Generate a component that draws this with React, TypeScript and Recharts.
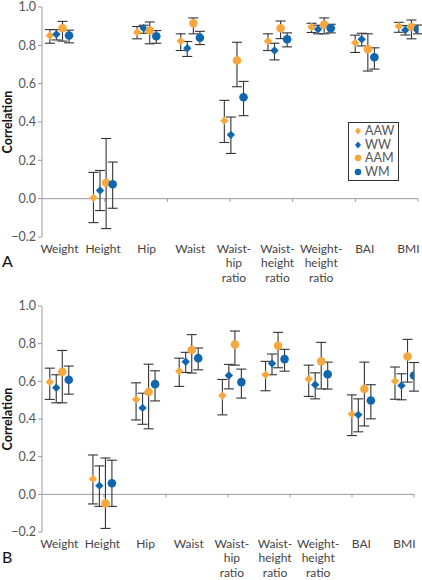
import React from 'react';
import { ScatterChart, Scatter, XAxis, YAxis, ErrorBar, ReferenceLine, Legend } from 'recharts';

// ---------- data ----------
const categories = ['Weight', 'Height', 'Hip', 'Waist', 'Waist-hip ratio', 'Waist-height ratio', 'Weight-height ratio', 'BAI', 'BMI'];
const seriesNames = ['AAW', 'WW', 'AAM', 'WM'];
const yTicks = [-0.2, 0, 0.2, 0.4, 0.6, 0.8, 1.0];

// [estimate, lower, upper]
const panelA_AAW: number[][] = [[0.851, 0.811, 0.882], [0.005, -0.125, 0.137], [0.868, 0.834, 0.898], [0.822, 0.773, 0.86], [0.407, 0.293, 0.513], [0.822, 0.773, 0.86], [0.896, 0.867, 0.915], [0.813, 0.763, 0.853], [0.9, 0.868, 0.92]];
const panelA_WW: number[][] = [[0.858, 0.828, 0.882], [0.043, -0.062, 0.147], [0.889, 0.863, 0.905], [0.785, 0.742, 0.82], [0.333, 0.236, 0.426], [0.773, 0.724, 0.811], [0.884, 0.86, 0.905], [0.832, 0.797, 0.863], [0.88, 0.854, 0.903]];
const panelA_AAM: number[][] = [[0.889, 0.822, 0.925], [0.083, -0.156, 0.314], [0.877, 0.808, 0.922], [0.915, 0.86, 0.943], [0.721, 0.584, 0.816], [0.889, 0.835, 0.927], [0.908, 0.86, 0.943], [0.78, 0.666, 0.86], [0.896, 0.834, 0.932]];
const panelA_WM: number[][] = [[0.851, 0.813, 0.879], [0.075, -0.05, 0.191], [0.847, 0.811, 0.877], [0.84, 0.804, 0.873], [0.529, 0.433, 0.612], [0.832, 0.792, 0.865], [0.889, 0.865, 0.91], [0.738, 0.676, 0.787], [0.884, 0.86, 0.906]];

const panelB_AAW: number[][] = [[0.596, 0.504, 0.67], [0.082, -0.051, 0.209], [0.504, 0.395, 0.592], [0.654, 0.573, 0.723], [0.525, 0.422, 0.61], [0.635, 0.55, 0.706], [0.612, 0.52, 0.686], [0.426, 0.312, 0.528], [0.601, 0.505, 0.676]];
const panelB_WW: number[][] = [[0.566, 0.486, 0.635], [0.046, -0.064, 0.151], [0.459, 0.372, 0.537], [0.704, 0.647, 0.754], [0.631, 0.56, 0.69], [0.695, 0.635, 0.745], [0.582, 0.507, 0.645], [0.422, 0.332, 0.507], [0.578, 0.502, 0.64]];
const panelB_AAM: number[][] = [[0.651, 0.486, 0.764], [-0.048, -0.181, 0.193], [0.543, 0.348, 0.691], [0.766, 0.644, 0.848], [0.796, 0.686, 0.867], [0.789, 0.672, 0.86], [0.706, 0.56, 0.807], [0.559, 0.363, 0.702], [0.732, 0.596, 0.823]];
const panelB_WM: number[][] = [[0.608, 0.532, 0.681], [0.059, -0.064, 0.181], [0.585, 0.496, 0.656], [0.723, 0.661, 0.777], [0.596, 0.511, 0.665], [0.718, 0.654, 0.77], [0.638, 0.559, 0.702], [0.498, 0.401, 0.582], [0.631, 0.548, 0.7]];

// ---------- styling ----------
const ORANGE = '#F6A83E';
const BLUE = '#1067B0';
const FONT = 'Lato, "Open Sans", sans-serif';
const seriesStyle = [
  { color: ORANGE, shape: 'diamond', offset: -0.22 },
  { color: BLUE, shape: 'diamond', offset: -0.07 },
  { color: ORANGE, shape: 'circle', offset: 0.07 },
  { color: BLUE, shape: 'circle', offset: 0.22 },
];
const X_DOMAIN: [number, number] = [-0.4, 8.22];
const axisTickPositions = Array.from({ length: 7 }, (_, k) => X_DOMAIN[0] + (k * (X_DOMAIN[1] - X_DOMAIN[0])) / 6);

const toRows = (vals: number[][], offset: number) =>
  vals.map((v, i) => ({ x: i + offset, y: v[0], err: [v[0] - v[1], v[2] - v[0]] }));

const Diamond = (props: any) => {
  const { cx, cy, fill } = props;
  const r = 4.2;
  return <path d={`M${cx},${cy - r}L${cx + r},${cy}L${cx},${cy + r}L${cx - r},${cy}Z`} fill={fill} />;
};
const Dot = (props: any) => {
  const { cx, cy, fill } = props;
  return <circle cx={cx} cy={cy} r={4.3} fill={fill} />;
};

const splitLabel = (s: string): string[] => {
  const out: string[] = [];
  s.split(' ').forEach((w) => {
    const h = w.indexOf('-');
    if (h > 0) {
      out.push(w.slice(0, h + 1));
      out.push(w.slice(h + 1));
    } else out.push(w);
  });
  return out;
};

const CategoryTick = (props: any) => {
  const { x, y, payload } = props;
  const lines = splitLabel(categories[payload.value] ?? '');
  return (
    <text x={x} y={y} textAnchor="middle" fill="#444" fontSize={12} fontFamily={FONT}>
      {lines.map((l, k) => (
        <tspan key={k} x={x} dy={k === 0 ? 15.5 : 14.5}>
          {l}
        </tspan>
      ))}
    </text>
  );
};

const fmt = (v: number) => (v < 0 ? '\u2212' + Math.abs(v).toFixed(1) : v.toFixed(1));

const LegendBox = () => (
  <div
    style={{
      border: '1px solid #333',
      background: '#fff',
      padding: '1px 3px 1px 5px',
      fontFamily: FONT,
      fontSize: 12.5,
      color: '#555',
      lineHeight: '13.7px',
      boxSizing: 'border-box',
      width: 51,
    }}
  >
    {seriesNames.map((n, i) => (
      <div key={n} style={{ display: 'flex', alignItems: 'center', height: 13.7 }}>
        <svg width={9} height={10} style={{ marginRight: 2 }}>
          {seriesStyle[i].shape === 'diamond' ? (
            <path d="M4,1.5L7,5L4,8.5L1,5Z" fill={seriesStyle[i].color} />
          ) : (
            <circle cx={4} cy={5} r={3.3} fill={seriesStyle[i].color} />
          )}
        </svg>
        <span>{n}</span>
      </div>
    ))}
  </div>
);

type PanelProps = {
  series: number[][][];
  width: number;
  height: number;
  margin: { top: number; right: number; left: number; bottom: number };
  plotHeight: number;
  showLegend?: boolean;
};

const Panel = ({ series, width, height, margin, plotHeight, showLegend }: PanelProps) => (
  <ScatterChart width={width} height={height} margin={margin} style={{ fontFamily: FONT }}>
    <XAxis
      type="number"
      dataKey="x"
      domain={X_DOMAIN}
      ticks={[0, 1, 2, 3, 4, 5, 6, 7, 8]}
      interval={0}
      allowDataOverflow
      axisLine={false}
      tickLine={false}
      tickSize={0}
      tickMargin={0}
      tick={<CategoryTick />}
      height={height - margin.top - margin.bottom - plotHeight}
    />
    <YAxis
      type="number"
      dataKey="y"
      domain={[-0.2, 1.0]}
      ticks={yTicks}
      interval={0}
      allowDataOverflow
      width={42}
      tickFormatter={fmt}
      tick={{ fill: '#555', fontSize: 12.5, fontFamily: FONT }}
      tickSize={4}
      tickMargin={2}
      axisLine={{ stroke: '#999' }}
      tickLine={{ stroke: '#999' }}
    />
    <ReferenceLine y={0} stroke="#999" strokeWidth={1} />
    {axisTickPositions.slice(1).map((t, k) => (
      <ReferenceLine
        key={k}
        segment={[
          { x: t, y: 0 },
          { x: t, y: -0.016 },
        ]}
        stroke="#999"
        ifOverflow="visible"
      />
    ))}
    {series.map((vals, i) => (
      <Scatter
        key={seriesNames[i]}
        name={seriesNames[i]}
        data={toRows(vals, seriesStyle[i].offset)}
        fill={seriesStyle[i].color}
        shape={seriesStyle[i].shape === 'diamond' ? <Diamond /> : <Dot />}
        isAnimationActive={false}
      >
        <ErrorBar dataKey="err" direction="y" width={5} stroke="#333" strokeWidth={1.1} />
      </Scatter>
    ))}
    {showLegend && (
      <Legend
        layout="vertical"
        align="center"
        verticalAlign="middle"
        content={<LegendBox />}
        wrapperStyle={{ position: 'absolute', left: 348, top: 122, width: 51 }}
      />
    )}
  </ScatterChart>
);

const yTitleStyle: React.CSSProperties = {
  position: 'absolute',
  left: 7,
  transform: 'translate(-50%, -50%) rotate(-90deg)',
  fontFamily: FONT,
  fontWeight: 700,
  fontSize: 12.5,
  color: '#111',
  whiteSpace: 'nowrap',
};

export default function App() {
  return (
    <div style={{ position: 'absolute', left: 0, top: 0, width: 422, height: 580, background: '#fff', fontFamily: FONT }}>
      <div style={{ position: 'absolute', left: 0, top: 0 }}>
        <Panel
          series={[panelA_AAW, panelA_WW, panelA_AAM, panelA_WM]}
          width={422}
          height={290}
          plotHeight={230}
          margin={{ top: 7, right: 4, left: 0, bottom: 0 }}
          showLegend
        />
      </div>
      <div style={{ position: 'absolute', left: 0, top: 290 }}>
        <Panel
          series={[panelB_AAW, panelB_WW, panelB_AAM, panelB_WM]}
          width={422}
          height={290}
          plotHeight={226}
          margin={{ top: 16, right: 8, left: 0, bottom: 0 }}
        />
      </div>
      <div style={{ ...yTitleStyle, top: 122 }}>Correlation</div>
      <div style={{ ...yTitleStyle, top: 419 }}>Correlation</div>
      <div style={{ position: 'absolute', left: 2, top: 252, fontFamily: FONT, fontSize: 16, color: '#111', lineHeight: '18px' }}>A</div>
      <div style={{ position: 'absolute', left: 2, top: 548, fontFamily: FONT, fontSize: 16, color: '#111', lineHeight: '18px' }}>B</div>
    </div>
  );
}
